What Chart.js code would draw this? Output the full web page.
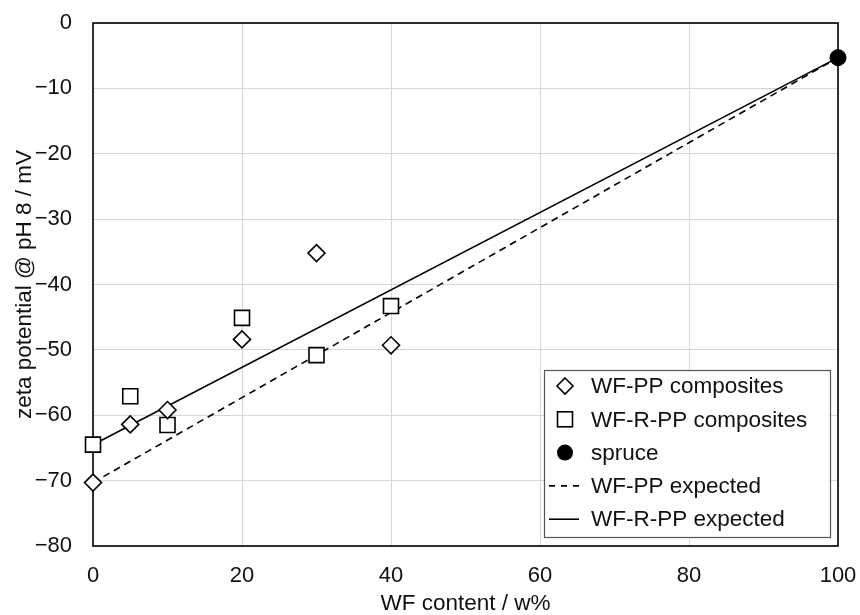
<!DOCTYPE html>
<html>
<head>
<meta charset="utf-8">
<script src="https://cdn.jsdelivr.net/npm/chart.js@4.4.0/dist/chart.umd.min.js"></script>
<style>
  html, body { margin: 0; padding: 0; background: #fff; }
  #wrap { width: 860px; height: 615px; }
</style>
</head>
<body>
<div id="wrap"><canvas id="c" width="860" height="615"></canvas></div>
<script>
// ---- data ----
const wfContent = [0, 5, 10, 20, 30, 40];
const wfPP = [-70.3, -61.4, -59.2, -48.4, -35.2, -49.3];
const wfRPP = [-64.5, -57.1, -61.5, -45.1, -50.8, -43.3];
const spruceX = [100];
const spruceY = [-5.3];
const expectedX = [0, 100];
const wfPPExpected = [-70.3, -5.3];
const wfRPPExpected = [-64.5, -5.3];
const seriesLabels = ['WF-PP composites', 'WF-R-PP composites', 'spruce', 'WF-PP expected', 'WF-R-PP expected'];
const xTitle = 'WF content / w%';
const yTitle = 'zeta potential @ pH 8 / mV';

const FONT = '"Liberation Sans", Arial, sans-serif';
const pts = (xs, ys) => xs.map((x, i) => ({ x: x, y: ys[i] }));

const frameAndLegend = {
  id: 'frameAndLegend',
  beforeDatasetsDraw(chart) {
    const { ctx, chartArea: a } = chart;
    ctx.save();
    ctx.strokeStyle = '#000';
    ctx.lineWidth = 1.6;
    ctx.strokeRect(a.left, a.top, a.right - a.left, a.bottom - a.top);
    ctx.restore();
  },
  afterDraw(chart) {
    const { ctx, chartArea: a } = chart;
    const bw = 286, bh = 167;
    const bx = a.right - 8 - bw, by = a.bottom - 9 - bh;
    ctx.save();
    ctx.fillStyle = '#fff';
    ctx.fillRect(bx, by, bw, bh);
    ctx.strokeStyle = '#555';
    ctx.lineWidth = 1.2;
    ctx.strokeRect(bx + 0.5, by + 0.5, bw, bh);
    const rowH = 33.3;
    const y0 = by + 16;
    const mx = bx + 21;
    const tx = bx + 47;
    ctx.font = '22.5px ' + FONT;
    ctx.textBaseline = 'middle';
    ctx.textAlign = 'left';
    chart.data.datasets.forEach((ds, i) => {
      const y = y0 + i * rowH;
      ctx.strokeStyle = '#000';
      ctx.fillStyle = '#fff';
      ctx.lineWidth = 1.6;
      if (i === 0) {
        ctx.beginPath();
        ctx.moveTo(mx, y - 8); ctx.lineTo(mx + 8, y); ctx.lineTo(mx, y + 8); ctx.lineTo(mx - 8, y); ctx.closePath();
        ctx.fill(); ctx.stroke();
      } else if (i === 1) {
        ctx.fillRect(mx - 7.5, y - 7.5, 15, 15);
        ctx.strokeRect(mx - 7.5, y - 7.5, 15, 15);
      } else if (i === 2) {
        ctx.fillStyle = '#000';
        ctx.beginPath(); ctx.arc(mx, y, 8, 0, Math.PI * 2); ctx.fill();
      } else {
        ctx.beginPath();
        ctx.setLineDash(i === 3 ? [6, 6] : []);
        ctx.moveTo(bx + 5, y); ctx.lineTo(bx + 35, y);
        ctx.stroke();
        ctx.setLineDash([]);
      }
      ctx.fillStyle = '#111';
      ctx.fillText(ds.label, tx, y + 1);
    });
    ctx.restore();
  }
};

const zeroPad = (s) => { s.paddingTop = 0; s.paddingBottom = 0; s.paddingLeft = 0; s.paddingRight = 0; };

new Chart(document.getElementById('c'), {
  type: 'scatter',
  data: {
    datasets: [
      { label: seriesLabels[0], data: pts(wfContent, wfPP), pointStyle: 'rectRot', pointRadius: 8.5, pointHoverRadius: 8.5,
        backgroundColor: '#fff', borderColor: '#000', borderWidth: 1.6, showLine: false, clip: false },
      { label: seriesLabels[1], data: pts(wfContent, wfRPP), pointStyle: 'rect', pointRadius: 10.6, pointHoverRadius: 10.6,
        backgroundColor: '#fff', borderColor: '#000', borderWidth: 1.6, showLine: false, clip: false },
      { label: seriesLabels[2], data: pts(spruceX, spruceY), pointStyle: 'circle', pointRadius: 8, pointHoverRadius: 8,
        backgroundColor: '#000', borderColor: '#000', borderWidth: 1, showLine: false, clip: false },
      { label: seriesLabels[3], data: pts(expectedX, wfPPExpected), showLine: true, pointRadius: 0,
        borderColor: '#000', borderWidth: 1.6, borderDash: [7, 5], fill: false, clip: false },
      { label: seriesLabels[4], data: pts(expectedX, wfRPPExpected), showLine: true, pointRadius: 0,
        borderColor: '#000', borderWidth: 1.6, fill: false, clip: false }
    ]
  },
  options: {
    responsive: false,
    animation: false,
    events: [],
    layout: { padding: { top: 23, right: 22, left: 0, bottom: 0 } },
    plugins: { legend: { display: false }, tooltip: { enabled: false }, title: { display: false } },
    scales: {
      x: {
        type: 'linear', min: 0, max: 100,
        ticks: { stepSize: 20, padding: 17, color: '#111', font: { family: FONT, size: 22 } },
        grid: { color: '#d6d6d6', lineWidth: 1, drawTicks: false },
        border: { display: false },
        title: { display: true, text: xTitle, color: '#111', font: { family: FONT, size: 22.5, lineHeight: 1 }, padding: { top: 0, bottom: 0 } },
        afterFit: (s) => { s.height = 69; zeroPad(s); }
      },
      y: {
        type: 'linear', min: -80, max: 0,
        ticks: { stepSize: 10, padding: 21, color: '#111', font: { family: FONT, size: 22 },
          callback: (v) => v < 0 ? '\u2212' + Math.abs(v) : String(v) },
        grid: { color: '#d6d6d6', lineWidth: 1, drawTicks: false },
        border: { display: false },
        title: { display: true, text: yTitle, color: '#111', font: { family: FONT, size: 22.5, lineHeight: 1 }, padding: { top: 14, bottom: 0 } },
        afterFit: (s) => { s.width = 93; zeroPad(s); }
      }
    }
  },
  plugins: [frameAndLegend]
});
</script>
</body>
</html>
